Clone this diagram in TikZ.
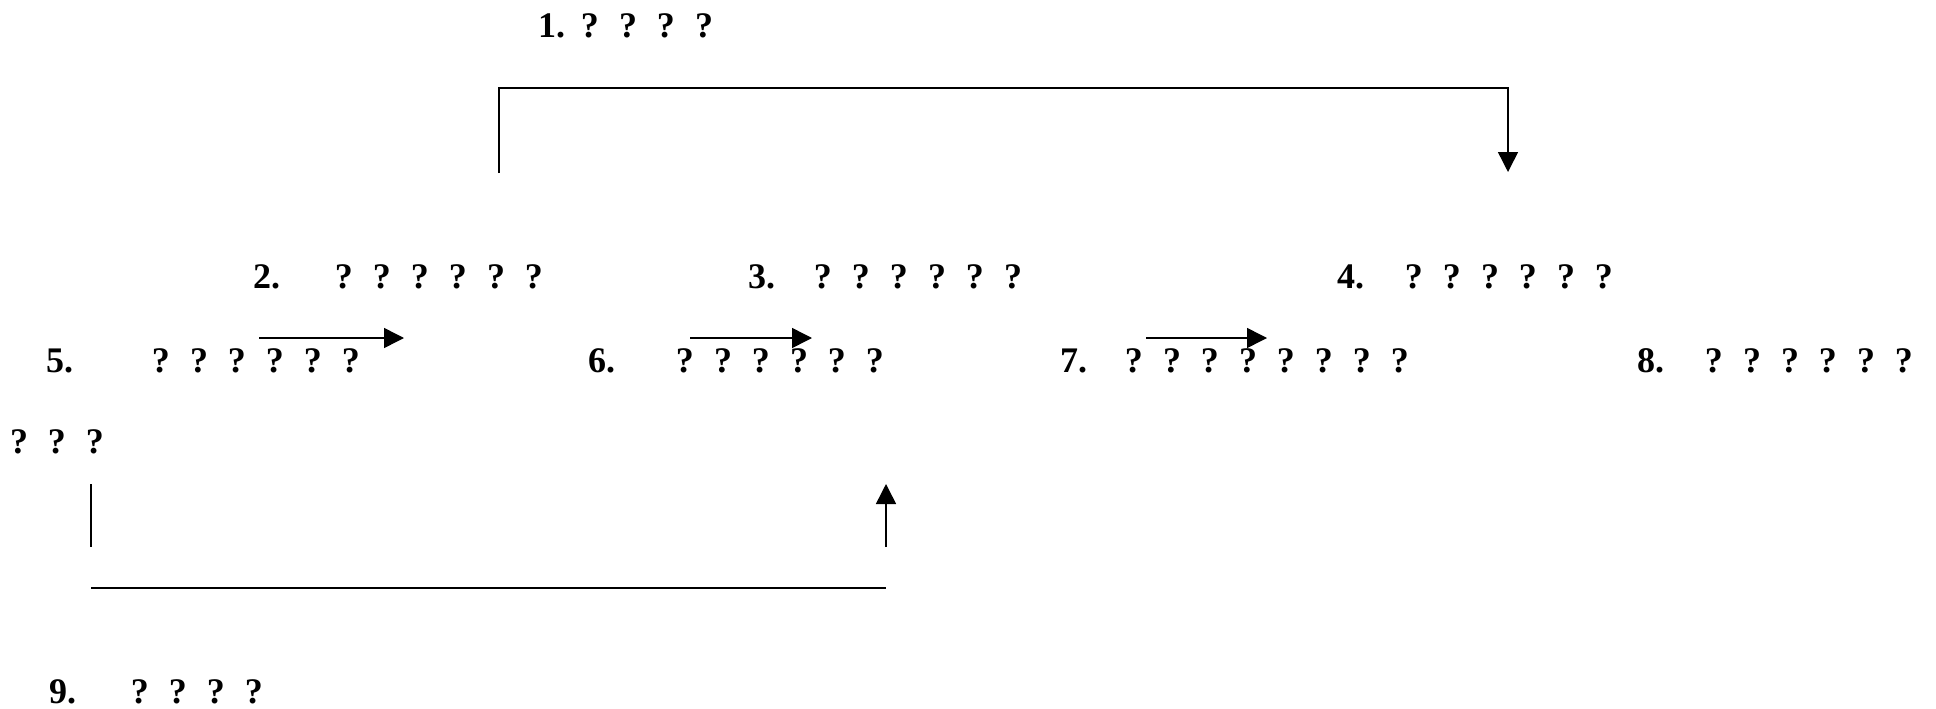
\documentclass[tikz,border=0pt]{standalone}
\usepackage{fontspec}
\setmainfont{Liberation Serif}
\usetikzlibrary{arrows.meta}
% label box of fixed width followed by the item text
\newcommand\entry[3]{\makebox[#1][l]{#2}#3}
\begin{document}
\begin{tikzpicture}[x=1pt,y=-1pt,
  item/.style={anchor=base west, inner sep=0pt, outer sep=0pt,
    font=\fontsize{36}{40}\selectfont\bfseries,
    execute at begin node={\spaceskip=20pt\relax\xspaceskip=20pt\relax}},
  flow/.style={line width=1.5pt, -{Triangle[length=20pt,width=20pt]}},
  link/.style={line width=1.3pt}]
\useasboundingbox (0,0) rectangle (1936,709);

% items
\node[item] (n1) at (538,38)  {\entry{43pt}{1.}{? ? ? ?}};
\node[item] (n2) at (253,288) {\entry{82pt}{2.}{? ? ? ? ? ?}};
\node[item] (n3) at (748,288) {\entry{66pt}{3.}{? ? ? ? ? ?}};
\node[item] (n4) at (1337,288) {\entry{68pt}{4.}{? ? ? ? ? ?}};
\node[item] (n5) at (46,372)  {\entry{106pt}{5.}{? ? ? ? ? ?}};
\node[item] (n6) at (588,372) {\entry{88pt}{6.}{? ? ? ? ? ?}};
\node[item] (n7) at (1060,372) {\entry{65pt}{7.}{? ? ? ? ? ? ? ?}};
\node[item] (n8) at (1637,372) {\entry{68pt}{8.}{? ? ? ? ? ?}};
\node[item] (n5b) at (10,453) {? ? ?};
\node[item] (n9) at (49,703)  {\entry{82pt}{9.}{? ? ? ?}};

% connector points
\coordinate (t1) at (499,173);
\coordinate (t2) at (1508,172);
\coordinate (a1s) at (259,338);  \coordinate (a1e) at (404,338);
\coordinate (a2s) at (690,338);  \coordinate (a2e) at (812,338);
\coordinate (a3s) at (1146,338); \coordinate (a3e) at (1267,338);
\coordinate (l1) at (91,484);    \coordinate (l2) at (91,547);
\coordinate (h1) at (91,588);    \coordinate (h2) at (886,588);
\coordinate (r1) at (886,547);   \coordinate (r2) at (886,484);

% top bracket
\draw[flow] (t1) -- (499,88) -| (t2);
% short arrows between items
\draw[flow] (a1s) -- (a1e);
\draw[flow] (a2s) -- (a2e);
\draw[flow] (a3s) -- (a3e);
% lower return path
\draw[link] (l1) -- (l2);
\draw[link] (h1) -- (h2);
\draw[flow] (r1) -- (r2);
\end{tikzpicture}
\end{document}
